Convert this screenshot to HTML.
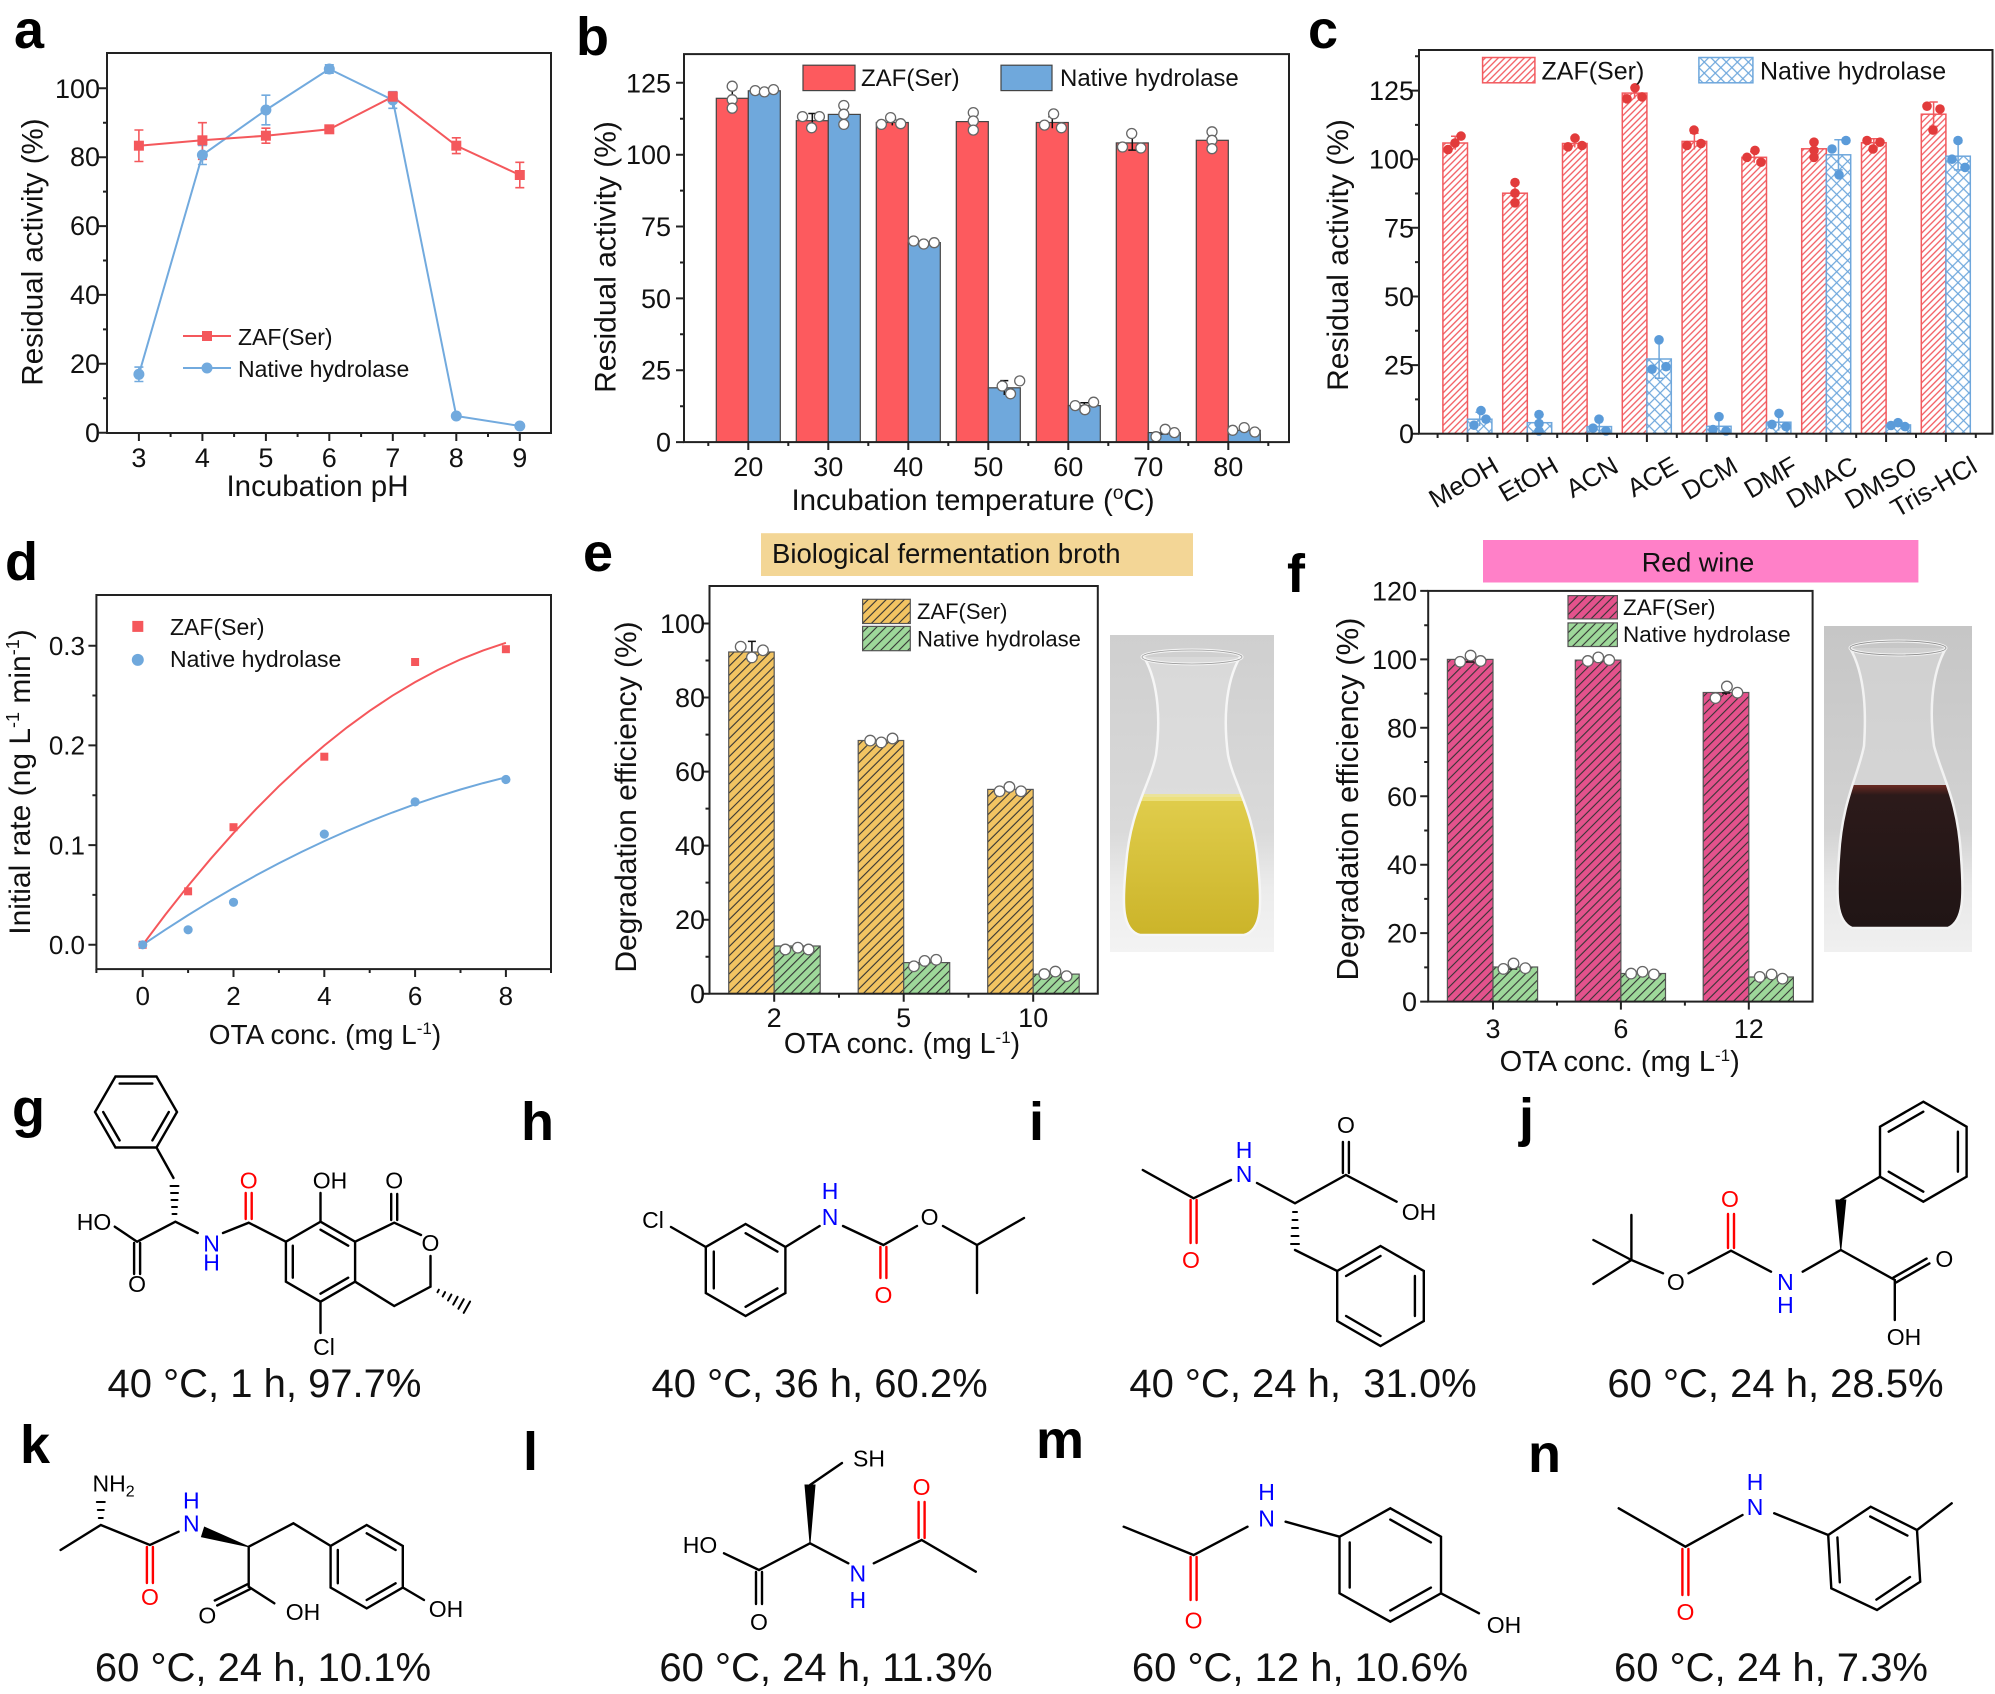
<!DOCTYPE html>
<html><head><meta charset="utf-8"><style>html,body{margin:0;padding:0;background:#fff}svg{display:block}</style></head>
<body>
<svg xmlns="http://www.w3.org/2000/svg" width="1995" height="1694" viewBox="0 0 1995 1694" font-family="'Liberation Sans', Arial, sans-serif">
<defs>
<pattern id="pr" width="4.6" height="4.6" patternUnits="userSpaceOnUse" patternTransform="rotate(45)"><rect width="4.6" height="4.6" fill="#fff"/><line x1="1" y1="0" x2="1" y2="4.6" stroke="#f25a5f" stroke-width="1.3"/></pattern>
<pattern id="pb" width="7.8" height="7.8" patternUnits="userSpaceOnUse" patternTransform="rotate(45)"><rect width="7.8" height="7.8" fill="#fff"/><path d="M1 0V7.8M0 1H7.8" stroke="#6ea7dc" stroke-width="1.2"/></pattern>
<pattern id="py" width="6.4" height="6.4" patternUnits="userSpaceOnUse" patternTransform="rotate(45)"><rect width="6.4" height="6.4" fill="#f2c462"/><line x1="1" y1="0" x2="1" y2="6.4" stroke="#333" stroke-width="1.1"/></pattern>
<pattern id="pg" width="6.4" height="6.4" patternUnits="userSpaceOnUse" patternTransform="rotate(45)"><rect width="6.4" height="6.4" fill="#9ed89a"/><line x1="1" y1="0" x2="1" y2="6.4" stroke="#333" stroke-width="1.1"/></pattern>
<pattern id="pp" width="6.4" height="6.4" patternUnits="userSpaceOnUse" patternTransform="rotate(45)"><rect width="6.4" height="6.4" fill="#e4528c"/><line x1="1" y1="0" x2="1" y2="6.4" stroke="#333" stroke-width="1.1"/></pattern>
<linearGradient id="bgE" x1="0" y1="0" x2="0" y2="1"><stop offset="0" stop-color="#cfcfcf"/><stop offset="0.62" stop-color="#dadada"/><stop offset="0.8" stop-color="#ececec"/><stop offset="1" stop-color="#f3f3f3"/></linearGradient>
<linearGradient id="bgF" x1="0" y1="0" x2="0" y2="1"><stop offset="0" stop-color="#c6c6c6"/><stop offset="0.62" stop-color="#d2d2d2"/><stop offset="0.8" stop-color="#e8e8e8"/><stop offset="1" stop-color="#f0f0f0"/></linearGradient>
<linearGradient id="liqE" x1="0" y1="0" x2="0" y2="1"><stop offset="0" stop-color="#e0cd4c"/><stop offset="1" stop-color="#c9b125"/></linearGradient>
<linearGradient id="liqF" x1="0" y1="0" x2="0" y2="1"><stop offset="0" stop-color="#6a2a22"/><stop offset="0.06" stop-color="#2c1a1a"/><stop offset="1" stop-color="#1e1414"/></linearGradient>
<clipPath id="cE"><path d="M34,22 C50,50 50,90 46,120 C40,150 20,175 16,230 C12,270 12,295 30,300 L134,300 C152,295 152,270 148,230 C144,175 124,150 118,120 C114,90 114,50 130,22 Z"/></clipPath>
<clipPath id="cF"><path d="M26,22 C42,50 42,90 40,120 C34,150 18,175 15,230 C12,270 12,295 28,302 L124,302 C140,295 140,270 137,230 C134,175 118,150 110,120 C106,90 106,50 122,22 Z"/></clipPath>
</defs>

<!-- Panel letters -->
<g font-weight="bold" font-size="54" fill="#000">
<text x="14" y="48">a</text>
<text x="576" y="55">b</text>
<text x="1308" y="48">c</text>
<text x="5" y="580">d</text>
<text x="583" y="571">e</text>
<text x="1287" y="592">f</text>
<text x="12" y="1127">g</text>
<text x="521" y="1140">h</text>
<text x="1029" y="1140">i</text>
<text x="1519" y="1136">j</text>
<text x="20" y="1463">k</text>
<text x="523" y="1470">l</text>
<text x="1036" y="1458">m</text>
<text x="1528" y="1472">n</text>
</g>

<!-- ================= Panel a ================= -->
<g>
<rect x="107" y="53" width="444" height="380" fill="none" stroke="#222" stroke-width="2"/>
<path d="M99 432.7H107M99 363.8H107M99 294.9H107M99 226.1H107M99 157.2H107M99 88.3H107M103 398.3H107M103 329.4H107M103 260.5H107M103 191.6H107M103 122.7H107M138.9 433V441M202.4 433V441M265.9 433V441M329.3 433V441M392.8 433V441M456.3 433V441M519.8 433V441M170.6 433V437M234.1 433V437M297.6 433V437M361.1 433V437M424.5 433V437M488 433V437" stroke="#222" stroke-width="2"/>
<g font-size="27" text-anchor="end" fill="#111">
<text x="100" y="442">0</text><text x="100" y="373">20</text><text x="100" y="304">40</text><text x="100" y="235">60</text><text x="100" y="166">80</text><text x="100" y="98">100</text>
</g>
<g font-size="27" text-anchor="middle" fill="#111">
<text x="138.9" y="467">3</text><text x="202.4" y="467">4</text><text x="265.9" y="467">5</text><text x="329.3" y="467">6</text><text x="392.8" y="467">7</text><text x="456.3" y="467">8</text><text x="519.8" y="467">9</text>
</g>
<text x="317.5" y="496" font-size="29.5" text-anchor="middle" fill="#111">Incubation pH</text>
<text transform="translate(42.5,252) rotate(-90)" font-size="29.5" text-anchor="middle" fill="#111">Residual activity (%)</text>
<polyline points="138.9,374.3 202.4,155 265.9,110 329.3,69 392.8,100 456.3,416 519.8,426" fill="none" stroke="#72aade" stroke-width="2"/>
<polyline points="138.9,145.7 202.4,140.3 265.9,135.7 329.3,129.3 392.8,96.7 456.3,145.7 519.8,175" fill="none" stroke="#f4585c" stroke-width="2"/>
<path d="M138.9 367.1V381.5M134.4 367.1H143.4M134.4 381.5H143.4M202.4 145.5V164.5M197.9 145.5H206.9M197.9 164.5H206.9M265.9 95.2V124.8M261.4 95.2H270.4M261.4 124.8H270.4M329.3 64.8V73.2M324.8 64.8H333.8M324.8 73.2H333.8M392.8 91.7V108.3M388.3 91.7H397.3M388.3 108.3H397.3" stroke="#72aade" stroke-width="1.6" fill="none"/>
<path d="M138.9 130V161.5M134.4 130H143.4M134.4 161.5H143.4M202.4 122.7V159.3M197.9 122.7H206.9M197.9 159.3H206.9M265.9 128.2V143.2M261.4 128.2H270.4M261.4 143.2H270.4M329.3 127V131.6M324.8 127H333.8M324.8 131.6H333.8M392.8 92V101.5M388.3 92H397.3M388.3 101.5H397.3M456.3 137.8V153.6M451.8 137.8H460.8M451.8 153.6H460.8M519.8 162.3V187.7M515.3 162.3H524.3M515.3 187.7H524.3" stroke="#f4585c" stroke-width="1.6" fill="none"/>
<g fill="#72aade">
<circle cx="138.9" cy="374.3" r="5.5"/><circle cx="202.4" cy="155" r="5.5"/><circle cx="265.9" cy="110" r="5.5"/><circle cx="329.3" cy="69" r="5.5"/><circle cx="392.8" cy="100" r="5.5"/><circle cx="456.3" cy="416" r="5.5"/><circle cx="519.8" cy="426" r="5.5"/>
</g>
<g fill="#f4585c">
<rect x="133.9" y="140.7" width="10" height="10"/><rect x="197.4" y="135.3" width="10" height="10"/><rect x="260.9" y="130.7" width="10" height="10"/><rect x="324.3" y="124.3" width="10" height="10"/><rect x="387.8" y="91.7" width="10" height="10"/><rect x="451.3" y="140.7" width="10" height="10"/><rect x="514.8" y="170" width="10" height="10"/>
</g>
<line x1="183" y1="336" x2="231" y2="336" stroke="#f4585c" stroke-width="2"/><rect x="202" y="331" width="10" height="10" fill="#f4585c"/>
<line x1="183" y1="368" x2="231" y2="368" stroke="#72aade" stroke-width="2"/><circle cx="207" cy="368" r="5.5" fill="#72aade"/>
<text x="238" y="345" font-size="23" fill="#111">ZAF(Ser)</text>
<text x="238" y="377" font-size="23" fill="#111">Native hydrolase</text>
</g>

<!-- ================= Panel b ================= -->
<g>
<g stroke="#444" stroke-width="1.2">
<rect x="716.3" y="98.3" width="32" height="343.8" fill="#fd5a5e"/>
<rect x="796.3" y="120.7" width="32" height="321.4" fill="#fd5a5e"/>
<rect x="876.3" y="122.5" width="32" height="319.6" fill="#fd5a5e"/>
<rect x="956.3" y="121.6" width="32" height="320.5" fill="#fd5a5e"/>
<rect x="1036.3" y="122.5" width="32" height="319.6" fill="#fd5a5e"/>
<rect x="1116.3" y="142.9" width="32" height="299.2" fill="#fd5a5e"/>
<rect x="1196.3" y="140.3" width="32" height="301.8" fill="#fd5a5e"/>
<rect x="748.3" y="90.8" width="32" height="351.3" fill="#6fa8dc"/>
<rect x="828.3" y="114.4" width="32" height="327.7" fill="#6fa8dc"/>
<rect x="908.3" y="242.6" width="32" height="199.5" fill="#6fa8dc"/>
<rect x="988.3" y="387.8" width="32" height="54.3" fill="#6fa8dc"/>
<rect x="1068.3" y="405.6" width="32" height="36.5" fill="#6fa8dc"/>
<rect x="1148.3" y="432.6" width="32" height="9.5" fill="#6fa8dc"/>
<rect x="1228.3" y="430.3" width="32" height="11.8" fill="#6fa8dc"/>
</g>
<path d="M732.3 89.7V106.9M728.3 89.7H736.3M812.3 113.5V127.9M808.3 113.5H816.3M892.3 119.6V125.4M888.3 119.6H896.3M1052.3 116.8V128.2M1048.3 116.8H1056.3M1132.3 135.7V150.1M1128.3 135.7H1136.3M1128.3 150.1H1136.3M1004.3 380.6V395M1000.3 380.6H1008.3M1084.3 402.7V408.5M1080.3 402.7H1088.3M1164.3 431V434M1160.3 434H1168.3" stroke="#111" stroke-width="1.5" fill="none"/>
<g fill="#fff" stroke="#666" stroke-width="1.3">
<circle cx="732.2" cy="86.2" r="5"/><circle cx="732.2" cy="99.7" r="5"/><circle cx="732.2" cy="108.2" r="5"/>
<circle cx="755.2" cy="90.6" r="5"/><circle cx="764.4" cy="91.9" r="5"/><circle cx="773.5" cy="89.6" r="5"/>
<circle cx="802.5" cy="116.6" r="5"/><circle cx="811.6" cy="127.8" r="5"/><circle cx="819.4" cy="116.6" r="5"/>
<circle cx="843.8" cy="105.5" r="5"/><circle cx="843.8" cy="114.2" r="5"/><circle cx="843.8" cy="124.4" r="5"/>
<circle cx="881.4" cy="124.4" r="5"/><circle cx="890.6" cy="117.6" r="5"/><circle cx="900.7" cy="123.7" r="5"/>
<circle cx="913.6" cy="241" r="5"/><circle cx="923.7" cy="244" r="5"/><circle cx="934.2" cy="242.7" r="5"/>
<circle cx="973.3" cy="112.6" r="5"/><circle cx="973.3" cy="121" r="5"/><circle cx="973.3" cy="130.1" r="5"/>
<circle cx="1002.2" cy="386" r="5"/><circle cx="1010.5" cy="393.8" r="5"/><circle cx="1019.7" cy="380.9" r="5"/>
<circle cx="1044.5" cy="125.1" r="5"/><circle cx="1053.6" cy="113.9" r="5"/><circle cx="1061.4" cy="127.8" r="5"/>
<circle cx="1075.2" cy="405.6" r="5"/><circle cx="1084.9" cy="409.7" r="5"/><circle cx="1093.6" cy="402.2" r="5"/>
<circle cx="1122.5" cy="147" r="5"/><circle cx="1131.7" cy="133.5" r="5"/><circle cx="1140.9" cy="148" r="5"/>
<circle cx="1156" cy="436.7" r="5"/><circle cx="1165.2" cy="429.3" r="5"/><circle cx="1174.4" cy="432.6" r="5"/>
<circle cx="1212" cy="131.8" r="5"/><circle cx="1212" cy="140.3" r="5"/><circle cx="1212" cy="148.7" r="5"/>
<circle cx="1232.7" cy="430.3" r="5"/><circle cx="1244.2" cy="427.6" r="5"/><circle cx="1254.8" cy="432" r="5"/>
</g>
<rect x="684" y="54.1" width="605" height="388" fill="none" stroke="#222" stroke-width="2"/>
<path d="M676 442.1H684M676 370.2H684M676 298.4H684M676 226.5H684M676 154.7H684M676 82.8H684M680 406.2H684M680 334.3H684M680 262.5H684M680 190.6H684M680 118.7H684M748.3 442V450M828.3 442V450M908.3 442V450M988.3 442V450M1068.3 442V450M1148.3 442V450M1228.3 442V450M708.3 442V446M788.3 442V446M868.3 442V446M948.3 442V446M1028.3 442V446M1108.3 442V446M1188.3 442V446M1268.3 442V446" stroke="#222" stroke-width="2"/>
<g font-size="27" text-anchor="end" fill="#111">
<text x="671" y="451.6">0</text><text x="671" y="379.7">25</text><text x="671" y="307.9">50</text><text x="671" y="236">75</text><text x="671" y="164.2">100</text><text x="671" y="92.3">125</text>
</g>
<g font-size="27" text-anchor="middle" fill="#111">
<text x="748.3" y="476">20</text><text x="828.3" y="476">30</text><text x="908.3" y="476">40</text><text x="988.3" y="476">50</text><text x="1068.3" y="476">60</text><text x="1148.3" y="476">70</text><text x="1228.3" y="476">80</text>
</g>
<text x="973" y="510" font-size="29.5" text-anchor="middle" fill="#111">Incubation temperature (<tspan dy="-11" font-size="19">o</tspan><tspan dy="11">C)</tspan></text>
<text transform="translate(615.5,257) rotate(-90)" font-size="30" text-anchor="middle" fill="#111">Residual activity (%)</text>
<rect x="803" y="65.2" width="52" height="25.4" fill="#fd5a5e" stroke="#444" stroke-width="1.2"/>
<text x="861" y="86.2" font-size="24" fill="#111">ZAF(Ser)</text>
<rect x="1001" y="65.2" width="51" height="25.4" fill="#6fa8dc" stroke="#444" stroke-width="1.2"/>
<text x="1060" y="86.2" font-size="24" fill="#111">Native hydrolase</text>
</g>

<!-- ================= Panel c ================= -->
<g>
<g stroke="#f25a5f" stroke-width="1.5" fill="url(#pr)">
<rect x="1442.9" y="143" width="24.6" height="290.7"/>
<rect x="1502.7" y="193.2" width="24.6" height="240.5"/>
<rect x="1562.5" y="143.5" width="24.6" height="290.2"/>
<rect x="1622.3" y="93.1" width="24.6" height="340.6"/>
<rect x="1682.1" y="141.4" width="24.6" height="292.3"/>
<rect x="1741.9" y="157.3" width="24.6" height="276.4"/>
<rect x="1801.7" y="148.8" width="24.6" height="284.9"/>
<rect x="1861.5" y="142.7" width="24.6" height="291"/>
<rect x="1921.3" y="114.2" width="24.6" height="319.5"/>
</g>
<g stroke="#6ea7dc" stroke-width="1.5" fill="url(#pb)">
<rect x="1467.5" y="419.2" width="24.4" height="14.5"/>
<rect x="1527.3" y="422.7" width="24.4" height="11"/>
<rect x="1587.1" y="426.6" width="24.4" height="7.1"/>
<rect x="1646.9" y="359" width="24.4" height="74.7"/>
<rect x="1706.7" y="426.3" width="24.4" height="7.4"/>
<rect x="1766.5" y="422.2" width="24.4" height="11.5"/>
<rect x="1826.3" y="154.8" width="24.4" height="278.9"/>
<rect x="1886.1" y="424.9" width="24.4" height="8.8"/>
<rect x="1945.9" y="156.2" width="24.4" height="277.5"/>
</g>
<path d="M1455.2 136.2V149.8M1451 136.2H1459.4M1515 183.1V203.3M1510.8 183.1H1519.2M1574.8 139.5V147.5M1570.6 139.5H1579M1634.6 87.6V98.6M1630.4 87.6H1638.8M1694.4 133.3V149.5M1690.2 133.3H1698.6M1754.2 151.8V162.8M1750 151.8H1758.4M1814 141.9V155.7M1809.8 141.9H1818.2M1873.8 138.7V146.7M1869.6 138.7H1878M1933.6 102V126.4M1929.4 102H1937.8M1929.4 126.4H1937.8" stroke="#f25a5f" stroke-width="1.5" fill="none"/>
<path d="M1479.7 412.3V426.1M1475.5 412.3H1483.9M1539.5 414.4V431M1535.3 414.4H1543.7M1599.3 419.8V433.4M1595.1 419.8H1603.5M1659.1 339.8V378.2M1654.9 339.8H1663.3M1654.9 378.2H1663.3M1718.9 416.7V433.7M1714.7 416.7H1723.1M1778.7 413.8V430.6M1774.5 413.8H1782.9M1838.5 139.7V169.9M1834.3 139.7H1842.7M1834.3 169.9H1842.7M1898.3 423.5V426.3M1958.1 142.5V169.9M1953.9 142.5H1962.3M1953.9 169.9H1962.3" stroke="#6ea7dc" stroke-width="1.5" fill="none"/>
<g fill="#e23b3b">
<circle cx="1461" cy="136.1" r="4.8"/><circle cx="1455" cy="143" r="4.8"/><circle cx="1448" cy="149.6" r="4.8"/>
<circle cx="1515" cy="182.5" r="4.8"/><circle cx="1515" cy="193.2" r="4.8"/><circle cx="1515" cy="202.8" r="4.8"/>
<circle cx="1575" cy="138.1" r="4.8"/><circle cx="1568" cy="146.8" r="4.8"/><circle cx="1582" cy="145.5" r="4.8"/>
<circle cx="1635" cy="87.8" r="4.8"/><circle cx="1642" cy="96.9" r="4.8"/><circle cx="1627" cy="98.8" r="4.8"/>
<circle cx="1694" cy="130.1" r="4.8"/><circle cx="1701" cy="143.5" r="4.8"/><circle cx="1687" cy="145.5" r="4.8"/>
<circle cx="1755" cy="150.4" r="4.8"/><circle cx="1747" cy="157.3" r="4.8"/><circle cx="1761" cy="162.2" r="4.8"/>
<circle cx="1814" cy="142.2" r="4.8"/><circle cx="1814" cy="150.4" r="4.8"/><circle cx="1814" cy="157.3" r="4.8"/>
<circle cx="1867" cy="140.5" r="4.8"/><circle cx="1880" cy="142.2" r="4.8"/><circle cx="1873" cy="149" r="4.8"/>
<circle cx="1927" cy="106.2" r="4.8"/><circle cx="1940" cy="109" r="4.8"/><circle cx="1933" cy="130.1" r="4.8"/>
</g>
<g fill="#5b9bd9">
<circle cx="1481" cy="410.6" r="4.8"/><circle cx="1486" cy="419.2" r="4.8"/><circle cx="1474" cy="425.2" r="4.8"/>
<circle cx="1539" cy="414.5" r="4.8"/><circle cx="1539" cy="423.5" r="4.8"/><circle cx="1539" cy="431" r="4.8"/>
<circle cx="1599" cy="419.2" r="4.8"/><circle cx="1593" cy="428.2" r="4.8"/><circle cx="1606" cy="431" r="4.8"/>
<circle cx="1659" cy="339.8" r="4.8"/><circle cx="1666" cy="366.7" r="4.8"/><circle cx="1652" cy="369.2" r="4.8"/>
<circle cx="1719" cy="416.7" r="4.8"/><circle cx="1713" cy="429.6" r="4.8"/><circle cx="1726" cy="431" r="4.8"/>
<circle cx="1779" cy="413.4" r="4.8"/><circle cx="1772" cy="424.4" r="4.8"/><circle cx="1786" cy="426.6" r="4.8"/>
<circle cx="1846" cy="140.5" r="4.8"/><circle cx="1832" cy="149" r="4.8"/><circle cx="1839" cy="174.8" r="4.8"/>
<circle cx="1891" cy="425.5" r="4.8"/><circle cx="1898" cy="422.7" r="4.8"/><circle cx="1905" cy="426.6" r="4.8"/>
<circle cx="1958" cy="140.5" r="4.8"/><circle cx="1952" cy="159.2" r="4.8"/><circle cx="1965" cy="167.4" r="4.8"/>
</g>
<rect x="1419" y="50" width="573.5" height="383.7" fill="none" stroke="#222" stroke-width="2"/>
<path d="M1411 433.7H1419M1411 365.1H1419M1411 296.5H1419M1411 227.8H1419M1411 159.2H1419M1411 90.6H1419M1415 399.4H1419M1415 330.8H1419M1415 262.1H1419M1415 193.5H1419M1415 124.9H1419M1415 56.3H1419M1467.5 434V442M1527.3 434V442M1587.1 434V442M1646.9 434V442M1706.7 434V442M1766.5 434V442M1826.3 434V442M1886.1 434V442M1945.9 434V442M1437.6 434V438M1497.4 434V438M1557.2 434V438M1617 434V438M1676.8 434V438M1736.6 434V438M1796.4 434V438M1856.2 434V438M1916 434V438M1975.8 434V438" stroke="#222" stroke-width="2"/>
<g font-size="27" text-anchor="end" fill="#111">
<text x="1414" y="443.2">0</text><text x="1414" y="374.6">25</text><text x="1414" y="306">50</text><text x="1414" y="237.3">75</text><text x="1414" y="168.7">100</text><text x="1414" y="100.1">125</text>
</g>
<g font-size="26" text-anchor="end" fill="#111">
<text transform="translate(1500.5,471) rotate(-30)">MeOH</text>
<text transform="translate(1560.3,471) rotate(-30)">EtOH</text>
<text transform="translate(1620.1,471) rotate(-30)">ACN</text>
<text transform="translate(1679.9,471) rotate(-30)">ACE</text>
<text transform="translate(1739.7,471) rotate(-30)">DCM</text>
<text transform="translate(1799.5,471) rotate(-30)">DMF</text>
<text transform="translate(1859.3,471) rotate(-30)">DMAC</text>
<text transform="translate(1919.1,471) rotate(-30)">DMSO</text>
<text transform="translate(1978.9,471) rotate(-30)">Tris-HCl</text>
</g>
<text transform="translate(1348,255) rotate(-90)" font-size="30" text-anchor="middle" fill="#111">Residual activity (%)</text>
<rect x="1482.6" y="57.5" width="52.3" height="25.3" fill="url(#pr)" stroke="#f25a5f" stroke-width="1.5"/>
<text x="1541.5" y="79.4" font-size="25" fill="#111">ZAF(Ser)</text>
<rect x="1698.9" y="57.5" width="54" height="25.3" fill="url(#pb)" stroke="#6ea7dc" stroke-width="1.5"/>
<text x="1760" y="79.4" font-size="25" fill="#111">Native hydrolase</text>
</g>

<!-- ================= Panel d ================= -->
<g>
<rect x="96.4" y="595" width="454.6" height="374.1" fill="none" stroke="#222" stroke-width="2"/>
<path d="M88.4 944.8H96.4M88.4 845.1H96.4M88.4 745.4H96.4M88.4 645.7H96.4M92.4 894.9H96.4M92.4 795.2H96.4M92.4 695.5H96.4M142.7 969V977M233.5 969V977M324.3 969V977M415.1 969V977M505.9 969V977M96.4 969V973M188.1 969V973M278.9 969V973M369.7 969V973M460.5 969V973M551 969V973" stroke="#222" stroke-width="2"/>
<g font-size="26" text-anchor="end" fill="#111">
<text x="85" y="954">0.0</text><text x="85" y="854.3">0.1</text><text x="85" y="754.6">0.2</text><text x="85" y="654.9">0.3</text>
</g>
<g font-size="26" text-anchor="middle" fill="#111">
<text x="142.7" y="1005">0</text><text x="233.5" y="1005">2</text><text x="324.3" y="1005">4</text><text x="415.1" y="1005">6</text><text x="505.9" y="1005">8</text>
</g>
<text x="325" y="1044" font-size="28" text-anchor="middle" fill="#111">OTA conc. (mg L<tspan dy="-10" font-size="17">-1</tspan><tspan dy="10">)</tspan></text>
<text transform="translate(30,782) rotate(-90)" font-size="30" text-anchor="middle" fill="#111">Initial rate (ng L<tspan dy="-11" font-size="18">-1</tspan><tspan dy="11"> min</tspan><tspan dy="-11" font-size="18">-1</tspan><tspan dy="11">)</tspan></text>
<polyline points="142.7,944.8 165.4,914.6 188.1,885.9 210.8,858.7 233.5,833.1 256.2,808.9 278.9,786.2 301.6,765.1 324.3,745.5 347,727.4 369.7,710.8 392.4,695.7 415.1,682.1 437.8,670 460.5,659.4 483.2,650.4 505.9,642.8" fill="none" stroke="#f5575b" stroke-width="2"/>
<polyline points="142.7,944.8 165.4,929.7 188.1,915.1 210.8,901.2 233.5,888 256.2,875.3 278.9,863.3 301.6,851.9 324.3,841.1 347,831 369.7,821.4 392.4,812.5 415.1,804.2 437.8,796.6 460.5,789.5 483.2,783.1 505.9,777.3" fill="none" stroke="#6fa8dc" stroke-width="2"/>
<g fill="#f5575b">
<rect x="138.7" y="940.8" width="8" height="8"/><rect x="184.1" y="887.3" width="8" height="8"/><rect x="229.5" y="823.2" width="8" height="8"/><rect x="320.3" y="752.7" width="8" height="8"/><rect x="411.1" y="658" width="8" height="8"/><rect x="501.9" y="645.2" width="8" height="8"/>
</g>
<g fill="#6fa8dc">
<circle cx="142.7" cy="944.8" r="4.6"/><circle cx="188.1" cy="929.8" r="4.6"/><circle cx="233.5" cy="902.3" r="4.6"/><circle cx="324.3" cy="834.1" r="4.6"/><circle cx="415.1" cy="801.9" r="4.6"/><circle cx="505.9" cy="779.5" r="4.6"/>
</g>
<rect x="132.3" y="620.9" width="11" height="11" fill="#f5575b"/>
<circle cx="137.8" cy="659.9" r="6" fill="#6fa8dc"/>
<text x="170" y="635" font-size="23" fill="#111">ZAF(Ser)</text>
<text x="170" y="667" font-size="23" fill="#111">Native hydrolase</text>
</g>

<!-- ================= Panel e ================= -->
<g>
<rect x="761" y="533.2" width="432" height="42.8" fill="#f3d696"/>
<text x="772" y="563" font-size="27.5" fill="#111">Biological fermentation broth</text>
<g stroke="#555" stroke-width="1.2">
<rect x="728.7" y="652" width="45.5" height="341.7" fill="url(#py)"/>
<rect x="858.2" y="740.5" width="45.5" height="253.2" fill="url(#py)"/>
<rect x="987.7" y="789.4" width="45.5" height="204.3" fill="url(#py)"/>
<rect x="774.2" y="946" width="46" height="47.7" fill="url(#pg)"/>
<rect x="903.7" y="962.6" width="46" height="31.1" fill="url(#pg)"/>
<rect x="1033.2" y="974.1" width="46" height="19.6" fill="url(#pg)"/>
</g>
<path d="M751.9 641.4V661M747.9 641.4H755.9" stroke="#111" stroke-width="1.5"/>
<g fill="#fff" stroke="#666" stroke-width="1.3">
<circle cx="740.7" cy="646.7" r="5.3"/><circle cx="751.9" cy="657.4" r="5.3"/><circle cx="763" cy="650.3" r="5.3"/>
<circle cx="785.3" cy="949.5" r="5.3"/><circle cx="797.8" cy="947.7" r="5.3"/><circle cx="808.6" cy="949.5" r="5.3"/>
<circle cx="870.2" cy="740.6" r="5.3"/><circle cx="881.3" cy="742.4" r="5.3"/><circle cx="892.5" cy="738.5" r="5.3"/>
<circle cx="913.9" cy="966.3" r="5.3"/><circle cx="924.6" cy="960.9" r="5.3"/><circle cx="936.2" cy="959.8" r="5.3"/>
<circle cx="999.6" cy="791.3" r="5.3"/><circle cx="1009.4" cy="787" r="5.3"/><circle cx="1021" cy="791.3" r="5.3"/>
<circle cx="1044.3" cy="974.1" r="5.3"/><circle cx="1055.4" cy="971.6" r="5.3"/><circle cx="1066.6" cy="976.2" r="5.3"/>
</g>
<rect x="709.5" y="586" width="388.3" height="407.7" fill="none" stroke="#222" stroke-width="2"/>
<path d="M701.5 993.7H709.5M701.5 919.7H709.5M701.5 845.6H709.5M701.5 771.6H709.5M701.5 697.5H709.5M701.5 623.5H709.5M705.5 956.7H709.5M705.5 882.6H709.5M705.5 808.6H709.5M705.5 734.6H709.5M705.5 660.5H709.5M774.2 993.7V1001.7M903.7 993.7V1001.7M1033.2 993.7V1001.7M839 993.7V997.7M968.5 993.7V997.7" stroke="#222" stroke-width="2"/>
<g font-size="27" text-anchor="end" fill="#111">
<text x="705" y="1003.2">0</text><text x="705" y="929.2">20</text><text x="705" y="855.1">40</text><text x="705" y="781.1">60</text><text x="705" y="707">80</text><text x="705" y="633">100</text>
</g>
<g font-size="27" text-anchor="middle" fill="#111">
<text x="774.2" y="1027">2</text><text x="903.7" y="1027">5</text><text x="1033.2" y="1027">10</text>
</g>
<text x="902" y="1053" font-size="28.5" text-anchor="middle" fill="#111">OTA conc. (mg L<tspan dy="-10" font-size="17">-1</tspan><tspan dy="10">)</tspan></text>
<text transform="translate(636,797) rotate(-90)" font-size="30" text-anchor="middle" fill="#111">Degradation efficiency (%)</text>
<rect x="862.6" y="599.3" width="47.7" height="24.2" fill="url(#py)" stroke="#555" stroke-width="1.2"/>
<text x="917" y="619.2" font-size="22" fill="#111">ZAF(Ser)</text>
<rect x="862.6" y="626.4" width="47.7" height="24.3" fill="url(#pg)" stroke="#555" stroke-width="1.2"/>
<text x="917" y="646.7" font-size="22" fill="#111">Native hydrolase</text>
<!-- photo e -->
<g transform="translate(1110,635)">
<rect width="164" height="317" fill="url(#bgE)"/>
<g clip-path="url(#cE)">
<rect x="0" y="0" width="164" height="317" fill="#e2e2e2" opacity="0.5"/>
<rect x="0" y="162" width="164" height="155" fill="url(#liqE)"/>
<rect x="0" y="159" width="164" height="7" fill="#efe58a" opacity="0.8"/>
</g>
<path d="M34,22 C50,50 50,90 46,120 C40,150 20,175 16,230 C12,270 12,295 30,300 L134,300 C152,295 152,270 148,230 C144,175 124,150 118,120 C114,90 114,50 130,22" fill="none" stroke="#f6f6f6" stroke-width="2.5"/>
<ellipse cx="82" cy="22" rx="50" ry="7" fill="none" stroke="#f4f4f4" stroke-width="3"/>
<ellipse cx="82" cy="22" rx="50" ry="7" fill="none" stroke="#9a9a9a" stroke-width="0.8"/>
</g>
</g>

<!-- ================= Panel f ================= -->
<g>
<rect x="1483" y="540" width="435.4" height="42.5" fill="#ff80c8"/>
<text x="1698" y="571.6" font-size="27" text-anchor="middle" fill="#111">Red wine</text>
<g stroke="#555" stroke-width="1.2">
<rect x="1447.4" y="659.4" width="45.6" height="342.2" fill="url(#pp)"/>
<rect x="1575.3" y="660.1" width="45.6" height="341.5" fill="url(#pp)"/>
<rect x="1703.2" y="692.5" width="45.6" height="309.1" fill="url(#pp)"/>
<rect x="1493" y="967" width="44.6" height="34.6" fill="url(#pg)"/>
<rect x="1620.9" y="973.5" width="44.6" height="28.1" fill="url(#pg)"/>
<rect x="1748.8" y="977" width="44.6" height="24.6" fill="url(#pg)"/>
</g>
<path d="M1470.2 657.5V662M1466.2 662H1474.2M1726 690V695M1722 693H1730M1513.3 963V969M1509.3 969H1517.3" stroke="#111" stroke-width="1.5"/>
<g fill="#fff" stroke="#666" stroke-width="1.3">
<circle cx="1460.1" cy="661.8" r="5.3"/><circle cx="1470.6" cy="655.6" r="5.3"/><circle cx="1480.6" cy="661" r="5.3"/>
<circle cx="1503.4" cy="968.9" r="5.3"/><circle cx="1513.5" cy="963.5" r="5.3"/><circle cx="1525.3" cy="968.2" r="5.3"/>
<circle cx="1587.8" cy="661" r="5.3"/><circle cx="1598.3" cy="657.4" r="5.3"/><circle cx="1609.2" cy="660" r="5.3"/>
<circle cx="1631.1" cy="973.6" r="5.3"/><circle cx="1642.5" cy="971.8" r="5.3"/><circle cx="1653.9" cy="974.4" r="5.3"/>
<circle cx="1715.5" cy="698.1" r="5.3"/><circle cx="1726.9" cy="686.5" r="5.3"/><circle cx="1737.4" cy="692.7" r="5.3"/>
<circle cx="1759.7" cy="976.9" r="5.3"/><circle cx="1771.6" cy="974.4" r="5.3"/><circle cx="1782.5" cy="978.7" r="5.3"/>
</g>
<rect x="1428.2" y="590.9" width="384.4" height="410.7" fill="none" stroke="#222" stroke-width="2"/>
<path d="M1420.2 1001.6H1428.2M1420.2 933.1H1428.2M1420.2 864.7H1428.2M1420.2 796.3H1428.2M1420.2 727.8H1428.2M1420.2 659.4H1428.2M1420.2 590.9H1428.2M1424.2 967.4H1428.2M1424.2 898.9H1428.2M1424.2 830.5H1428.2M1424.2 762H1428.2M1424.2 693.6H1428.2M1424.2 625.2H1428.2M1493 1001.6V1009.6M1620.9 1001.6V1009.6M1748.8 1001.6V1009.6M1557 1001.6V1005.6M1684.9 1001.6V1005.6" stroke="#222" stroke-width="2"/>
<g font-size="27" text-anchor="end" fill="#111">
<text x="1417" y="1011.1">0</text><text x="1417" y="942.6">20</text><text x="1417" y="874.2">40</text><text x="1417" y="805.8">60</text><text x="1417" y="737.3">80</text><text x="1417" y="668.9">100</text><text x="1417" y="600.4">120</text>
</g>
<g font-size="27" text-anchor="middle" fill="#111">
<text x="1493" y="1038">3</text><text x="1620.9" y="1038">6</text><text x="1748.8" y="1038">12</text>
</g>
<text x="1619.7" y="1071" font-size="29" text-anchor="middle" fill="#111">OTA conc. (mg L<tspan dy="-10" font-size="17">-1</tspan><tspan dy="10">)</tspan></text>
<text transform="translate(1358,799) rotate(-90)" font-size="31" text-anchor="middle" fill="#111">Degradation efficiency (%)</text>
<rect x="1568" y="595.6" width="49.4" height="23.3" fill="url(#pp)" stroke="#555" stroke-width="1.2"/>
<text x="1623" y="615.2" font-size="22.5" fill="#111">ZAF(Ser)</text>
<rect x="1568" y="622.9" width="49.4" height="23.6" fill="url(#pg)" stroke="#555" stroke-width="1.2"/>
<text x="1623" y="641.8" font-size="22.5" fill="#111">Native hydrolase</text>
<!-- photo f -->
<g transform="translate(1824,626)">
<rect width="148" height="326" fill="url(#bgF)"/>
<g clip-path="url(#cF)">
<rect x="0" y="0" width="148" height="326" fill="#dadada" opacity="0.5"/>
<rect x="0" y="159" width="148" height="167" fill="url(#liqF)"/>
</g>
<path d="M26,22 C42,50 42,90 40,120 C34,150 18,175 15,230 C12,270 12,295 28,302 L124,302 C140,295 140,270 137,230 C134,175 118,150 110,120 C106,90 106,50 122,22" fill="none" stroke="#f2f2f2" stroke-width="2.5"/>
<ellipse cx="74" cy="22" rx="48" ry="7" fill="none" stroke="#f2f2f2" stroke-width="3"/>
<ellipse cx="74" cy="22" rx="48" ry="7" fill="none" stroke="#8a8a8a" stroke-width="0.8"/>
</g>
</g>

<!-- ================= Structures ================= -->
<g stroke="#000" stroke-width="2.4" fill="none" stroke-linecap="round">
<!-- g -->
<path d="M177 1112L156.5 1147.5L115.5 1147.5L95 1112L115.5 1076.5L156.5 1076.5Z"/>
<path d="M119.6 1083.6L152.4 1083.6M168.8 1112L152.4 1140.4M119.6 1140.4L103.2 1112"/>
<path d="M156.5 1147.5L173.5 1178"/>
<path d="M170.5 1186H178.5M171 1193H178M171.5 1200H177.5M172 1207H177M172.5 1214H176.5" stroke-width="2"/>
<path d="M175.4 1221.7L197.7 1233M175.4 1221.7L137.1 1241.7L114.8 1226.7M134.1 1243V1274M140.1 1243V1274"/>
<path d="M223 1233L248.7 1222.7L285.9 1241.7"/>
<path d="M245.7 1219V1193M251.7 1219V1193" stroke="#f00"/>
<path d="M320.5 1221.7L355.1 1241.7L355.1 1281.7L320.5 1301.7L285.9 1281.7L285.9 1241.7Z"/>
<path d="M320.5 1229.7L348.2 1245.7M348.2 1277.7L320.5 1293.7M292.8 1277.7L292.8 1245.7"/>
<path d="M320.5 1221.7V1193M355.1 1241.7L394.2 1222.7L421 1235M391.2 1220V1194M397.2 1220V1194"/>
<path d="M430.5 1256V1286.7L394.2 1306L355.1 1281.7M320.5 1301.7V1333"/>
<path d="M438.9 1289.7L437.5 1292.3M445.1 1292.1L442.7 1296.5M451.4 1294.5L448 1300.5M457.6 1296.8L453.2 1304.6M463.8 1299.2L458.4 1308.8M470.1 1301.5L463.7 1312.9" stroke-width="2"/>
<!-- h -->
<path d="M745.6 1224L785.4 1247L785.4 1293L745.6 1316L705.8 1293L705.8 1247Z"/>
<path d="M745.6 1233.2L777.4 1251.6M777.4 1288.4L745.6 1306.8M713.8 1288.4L713.8 1251.6"/>
<path d="M705.8 1247L671 1227M785.4 1247L819.6 1226M843 1226L883.4 1245L917 1226M943 1226L977 1245L1024 1218M977 1245V1293"/>
<path d="M880.4 1247V1278M886.4 1247V1278" stroke="#f00"/>
<!-- i -->
<path d="M1142.8 1170L1193.6 1198.3L1231 1180M1257 1183L1295 1203.3L1345.9 1175L1396.6 1201.7M1342.9 1173V1142M1348.9 1173V1142"/>
<path d="M1190.6 1200V1243M1196.6 1200V1243" stroke="#f00"/>
<path d="M1293 1212H1297M1292.5 1220H1297.5M1292 1228H1298M1291.5 1236H1298.5M1291 1244H1299" stroke-width="2"/>
<path d="M1295 1250L1337.2 1271"/>
<path d="M1380.5 1246L1423.8 1271L1423.8 1321L1380.5 1346L1337.2 1321L1337.2 1271Z"/>
<path d="M1346.1 1276L1380.5 1256M1414.9 1276L1414.9 1316M1380.5 1336L1346.1 1316"/>
<!-- j -->
<path d="M1923.3 1101.7L1966.6 1126.7L1966.6 1176.7L1923.3 1201.7L1880 1176.7L1880 1126.7Z"/>
<path d="M1888.7 1131.7L1923.3 1111.7M1957.9 1131.7L1957.9 1171.7M1923.3 1191.7L1888.7 1171.7"/>
<path d="M1880 1176.7L1840.8 1200"/>
<polygon points="1835.8,1200 1845.8,1200 1840.8,1250" fill="#000" stroke-width="1"/>
<path d="M1840.8 1250L1802.7 1271.7M1771 1271.7L1731 1250.7L1688.5 1273.3M1663 1273.3L1631.4 1260L1631.4 1215M1631.4 1260L1593.4 1240M1631.4 1260L1593.4 1284"/>
<path d="M1728 1248V1214M1734 1248V1214" stroke="#f00"/>
<path d="M1840.8 1250L1894.8 1280L1894.8 1320M1896.2 1282.4L1929.4 1263.4M1893.4 1277.6L1926.6 1258.6"/>
<!-- k -->
<path d="M98.8 1518H102.8M97.8 1510H103.8M96.8 1502H104.8" stroke-width="2"/>
<path d="M100.8 1525L60.6 1550M100.8 1525L149.9 1545L178.6 1531.7"/>
<path d="M146.9 1547V1583M152.9 1547V1583" stroke="#f00"/>
<polygon points="204.5,1527.2 201.5,1536.8 248.7,1546.7" fill="#000" stroke-width="1"/>
<path d="M248.7 1546.7L293.4 1523.3L330.6 1545.9M248.7 1546.7V1586.7L274.3 1603.3M249.9 1589.2L217.2 1605.5M247.5 1584.2L214.8 1600.5"/>
<path d="M366.7 1525L402.8 1545.9L402.8 1587.5L366.7 1608.4L330.6 1587.5L330.6 1545.9Z"/>
<path d="M366.7 1533.3L395.6 1550M395.6 1583.3L366.7 1600M337.8 1583.3L337.8 1550"/>
<path d="M402.8 1587.5L424 1600"/>
<!-- l -->
<path d="M810 1485L842 1463"/>
<polygon points="805,1485 815,1485 810,1543.3" fill="#000" stroke-width="1"/>
<path d="M810 1543.3L759 1570L724 1553.3M810 1543.3L848.3 1563.3M756 1572V1604M762 1572V1604M873.8 1563.3L921.6 1540L975.8 1571.7"/>
<path d="M918.6 1538V1502M924.6 1538V1502" stroke="#f00"/>
<!-- m -->
<path d="M1123.7 1526.7L1193.6 1555L1247.5 1526.7M1285.6 1521.7L1339.5 1536.7"/>
<path d="M1190.6 1557V1600M1196.6 1557V1600" stroke="#f00"/>
<path d="M1339.5 1536.7L1390.3 1508.3L1441 1536.7L1441 1593.3L1390.3 1621.7L1339.5 1593.3Z"/>
<path d="M1390.3 1519.6L1430.9 1542.4M1430.9 1587.6L1390.3 1610.4M1349.7 1587.6L1349.7 1542.4"/>
<path d="M1441 1593.3L1479 1613.3"/>
<!-- n -->
<path d="M1618.7 1508.3L1685.4 1546.7L1742.5 1515M1774.2 1513.3L1828.2 1535"/>
<path d="M1682.4 1549V1595M1688.4 1549V1595" stroke="#f00"/>
<path d="M1828.2 1535L1870.7 1506.7L1917 1530L1920.2 1581.7L1877 1610L1831.3 1588.3Z"/>
<path d="M1870.2 1516.5L1907.4 1535.6M1910 1577L1876.4 1599.6M1839.8 1582.3L1837.4 1537.4"/>
<path d="M1917 1530L1951.7 1503.3"/>
</g>

<!-- atom labels -->
<g font-size="23" text-anchor="middle" fill="#000">
<text x="94" y="1230">HO</text>
<text x="137.1" y="1292">O</text>
<text x="211.5" y="1251.7" fill="#00f">N</text>
<text x="211.5" y="1270.5" fill="#00f">H</text>
<text x="248.7" y="1188.5" fill="#f00">O</text>
<text x="330" y="1188.5">OH</text>
<text x="394.2" y="1188.5">O</text>
<text x="430.5" y="1251">O</text>
<text x="324" y="1355">Cl</text>
<text x="653" y="1228">Cl</text>
<text x="830" y="1225" fill="#00f">N</text>
<text x="830" y="1199" fill="#00f">H</text>
<text x="883.4" y="1303" fill="#f00">O</text>
<text x="929.6" y="1225">O</text>
<text x="1191" y="1268" fill="#f00">O</text>
<text x="1244" y="1182" fill="#00f">N</text>
<text x="1244" y="1158" fill="#00f">H</text>
<text x="1345.9" y="1133">O</text>
<text x="1419" y="1220">OH</text>
<text x="1730" y="1207" fill="#f00">O</text>
<text x="1675.8" y="1290">O</text>
<text x="1785.4" y="1290" fill="#00f">N</text>
<text x="1785.4" y="1313" fill="#00f">H</text>
<text x="1944.3" y="1267">O</text>
<text x="1904" y="1345">OH</text>
<text x="92.5" y="1491.7" text-anchor="start">NH<tspan font-size="16" dy="5">2</tspan></text>
<text x="149.9" y="1605" fill="#f00">O</text>
<text x="191.3" y="1531.7" fill="#00f">N</text>
<text x="191.3" y="1508.3" fill="#00f">H</text>
<text x="207.3" y="1623.3">O</text>
<text x="303" y="1620">OH</text>
<text x="446" y="1617">OH</text>
<text x="869" y="1466.7">SH</text>
<text x="700" y="1553">HO</text>
<text x="759" y="1630">O</text>
<text x="857.8" y="1581.7" fill="#00f">N</text>
<text x="857.8" y="1608" fill="#00f">H</text>
<text x="921.6" y="1495" fill="#f00">O</text>
<text x="1193.6" y="1628.3" fill="#f00">O</text>
<text x="1266.5" y="1526.7" fill="#00f">N</text>
<text x="1266.5" y="1500" fill="#00f">H</text>
<text x="1504" y="1633">OH</text>
<text x="1685.4" y="1620" fill="#f00">O</text>
<text x="1755" y="1515" fill="#00f">N</text>
<text x="1755" y="1490" fill="#00f">H</text>
</g>

<!-- captions -->
<g font-size="40" text-anchor="middle" fill="#111">
<text x="264.5" y="1397">40 °C, 1 h, 97.7%</text>
<text x="819.6" y="1397">40 °C, 36 h, 60.2%</text>
<text x="1303" y="1397">40 °C, 24 h,&#160; 31.0%</text>
<text x="1775.5" y="1397">60 °C, 24 h, 28.5%</text>
<text x="263" y="1681">60 °C, 24 h, 10.1%</text>
<text x="826" y="1681">60 °C, 24 h, 11.3%</text>
<text x="1300" y="1681">60 °C, 12 h, 10.6%</text>
<text x="1771" y="1681">60 °C, 24 h, 7.3%</text>
</g>
</svg>
</body></html>
